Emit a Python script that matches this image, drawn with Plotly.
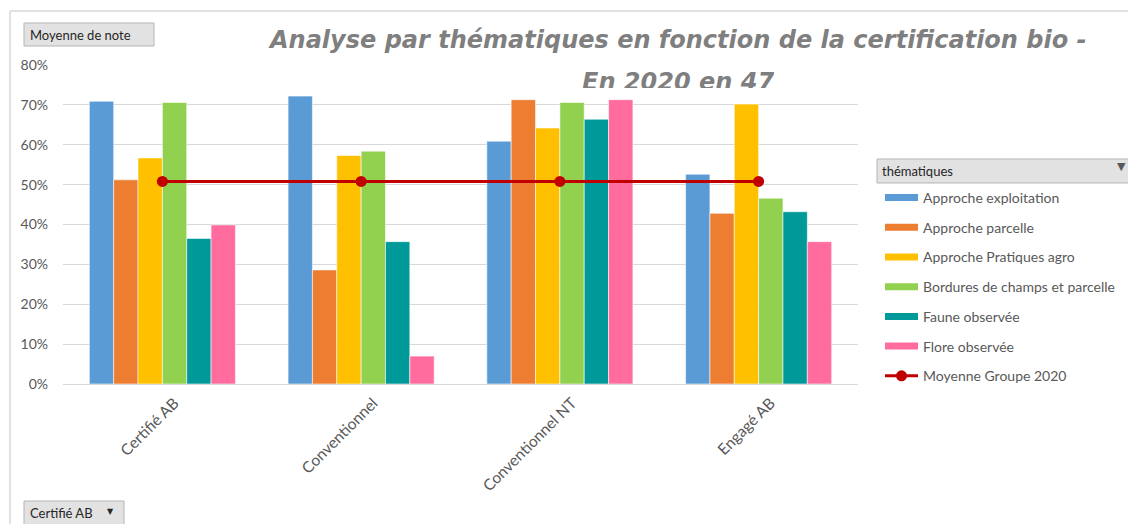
import plotly.graph_objects as go

categories = ["Certifié AB", "Conventionnel", "Conventionnel NT", "Engagé AB"]
series_names = [
    "Approche exploitation",
    "Approche parcelle",
    "Approche Pratiques agro",
    "Bordures de champs et parcelle",
    "Faune observée",
    "Flore observée",
]
approche_exploitation = [0.709, 0.722, 0.609, 0.526]
approche_parcelle = [0.512, 0.286, 0.713, 0.428]
approche_pratiques = [0.567, 0.573, 0.642, 0.702]
bordures = [0.706, 0.584, 0.706, 0.466]
faune = [0.365, 0.357, 0.664, 0.432]
flore = [0.399, 0.070, 0.713, 0.357]
moyenne_groupe = [0.508, 0.508, 0.508, 0.508]

series_values = [approche_exploitation, approche_parcelle, approche_pratiques, bordures, faune, flore]
colors = ["#5B9BD5", "#ED7D31", "#FFC000", "#92D050", "#009999", "#FF6C9D"]
red = "#C00000"

# plot area in pixels
L, R, T, B = 63, 858, 65, 384
W, H = 1128, 524


def px(x):
    return (x - L) / (R - L)


def py(y):
    return (B - y) / (B - T)


fig = go.Figure()
for name, vals, col in zip(series_names, series_values, colors):
    fig.add_trace(go.Bar(x=categories, y=vals, name=name, marker_color=col,
                         marker_line=dict(width=0.8, color="rgba(255,255,255,0.7)"),
                         showlegend=False, legendgroup=name))
    # legend entry with a wide thin swatch
    fig.add_trace(go.Scatter(x=[None], y=[None], mode="lines", name=name, legendgroup=name,
                             line=dict(color=col, width=7)))

fig.add_trace(go.Scatter(x=categories, y=moyenne_groupe, mode="lines+markers", name="Moyenne Groupe 2020",
                         legendgroup="moy", line=dict(color=red, width=3), marker=dict(color=red, size=11)))

shapes = [
    # chart frame
    dict(type="line", xref="paper", yref="paper", x0=px(10), x1=px(1128), y0=py(11), y1=py(11),
         line=dict(color="#d9d9d9", width=1.5)),
    dict(type="line", xref="paper", yref="paper", x0=px(10), x1=px(10), y0=py(11), y1=py(524),
         line=dict(color="#d9d9d9", width=1.5)),
    # title box hides the top gridline
    dict(type="rect", xref="paper", yref="paper", x0=px(226), x1=px(1000), y0=py(56), y1=py(74),
         fillcolor="white", line_width=0, layer="above"),
    # field buttons
    dict(type="rect", xref="paper", yref="paper", x0=px(24), x1=px(154), y0=py(23), y1=py(46),
         fillcolor="#e2e2e2", line=dict(color="#b5b5b5", width=1)),
    dict(type="rect", xref="paper", yref="paper", x0=px(24), x1=px(124), y0=py(501), y1=py(530),
         fillcolor="#e2e2e2", line=dict(color="#b5b5b5", width=1)),
    dict(type="rect", xref="paper", yref="paper", x0=px(877), x1=px(1132), y0=py(159), y1=py(183),
         fillcolor="#e2e2e2", line=dict(color="#b5b5b5", width=1)),
]

btn_font = dict(family="Lato", size=13, color="#262626")
title_font = dict(family="DejaVu Sans", size=24, color="#7f7f7f", weight="bold", style="italic")
annotations = [
    dict(text="Analyse par thématiques en fonction de la certification bio -", xref="paper", yref="paper",
         x=px(677), y=py(40), xanchor="center", yanchor="middle", showarrow=False, font=title_font),
    dict(text="En 2020 en 47", xref="paper", yref="paper",
         x=px(678), y=py(66), xanchor="center", yanchor="top", showarrow=False, height=20, valign="top",
         font=title_font),
    dict(text="Moyenne de note", xref="paper", yref="paper", x=px(28), y=py(35), xanchor="left",
         yanchor="middle", showarrow=False, font=btn_font),
    dict(text="Certifié AB", xref="paper", yref="paper", x=px(28), y=py(513), xanchor="left",
         yanchor="middle", showarrow=False, font=btn_font),
    dict(text="▼", xref="paper", yref="paper", x=px(110), y=py(512), xanchor="center",
         yanchor="middle", showarrow=False, font=dict(family="DejaVu Sans", size=8, color="#262626")),
    dict(text="thématiques", xref="paper", yref="paper", x=px(880), y=py(171), xanchor="left",
         yanchor="middle", showarrow=False, font=btn_font),
    dict(text="▼", xref="paper", yref="paper", x=px(1121), y=py(166), xanchor="center",
         yanchor="middle", showarrow=False, font=dict(family="DejaVu Sans", size=11, color="#595959")),
]

fig.update_layout(
    width=W, height=H,
    margin=dict(l=L, r=W - R, t=T, b=H - B, autoexpand=False),
    paper_bgcolor="white", plot_bgcolor="white",
    barmode="group", bargap=0.265, bargroupgap=0,
    font=dict(family="Lato", size=14, color="#595959"),
    showlegend=True,
    legend=dict(x=px(880), y=py(182), xanchor="left", yanchor="top", itemwidth=33,
                traceorder="grouped", tracegroupgap=8.5, font=dict(family="Lato", size=14, color="#595959"),
                bgcolor="rgba(0,0,0,0)"),
    shapes=shapes,
    annotations=annotations,
)
fig.update_yaxes(range=[0, 0.8], dtick=0.1, tickformat=".0%", gridcolor="#d9d9d9", gridwidth=1,
                 zeroline=False, showline=False, ticklabelstandoff=14,
                 tickfont=dict(family="Lato", size=14, color="#595959"))
fig.update_xaxes(tickangle=-45, showline=True, linecolor="#d9d9d9", linewidth=1,
                 ticklabelstandoff=3, ticklabelshift=12,
                 tickfont=dict(family="Lato", size=15.5, color="#595959"))

fig.write_html("out.html", config={"displayModeBar": False},
               post_script="document.body.style.margin='0';")
